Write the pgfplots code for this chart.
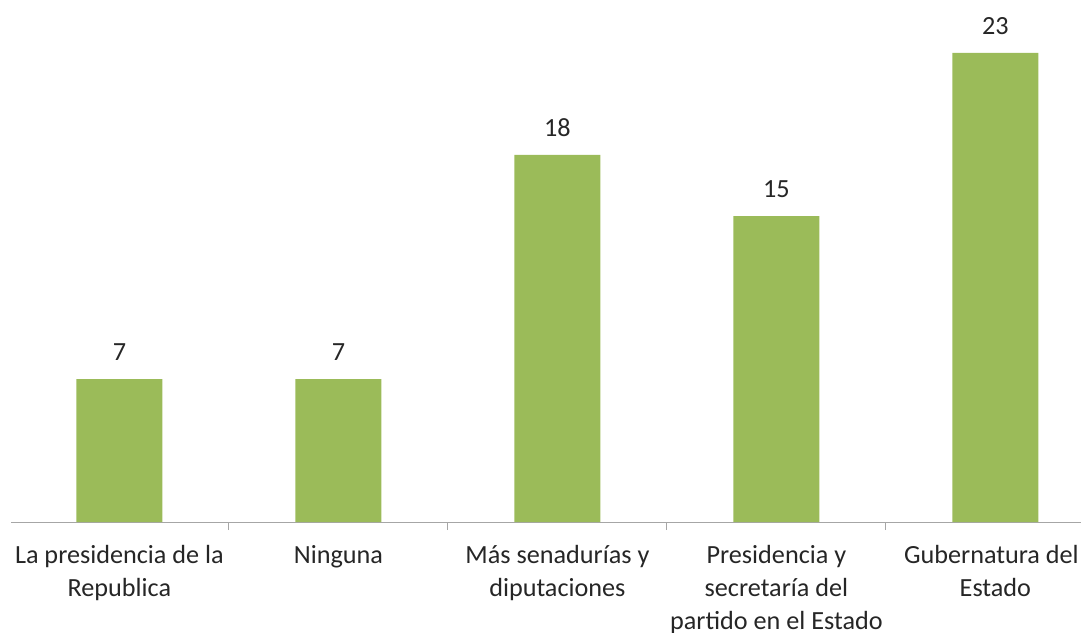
\documentclass[border=0pt]{standalone}
\usepackage{pgfplots}
\pgfplotsset{compat=1.18}
\usepackage{fontspec}
\setmainfont{Carlito}
\definecolor{bargreen}{HTML}{9BBB59}
\definecolor{axgray}{HTML}{A6A6A6}
\definecolor{txt}{HTML}{262626}
\begin{document}
\begin{tikzpicture}
\begin{axis}[
  name=ax,
  scale only axis,
  width=1070bp, height=522bp,
  xmin=-0.495, xmax=4.391,
  ymin=0, ymax=25.59,
  hide y axis,
  axis x line*=bottom,
  x axis line style={axgray, line width=1bp},
  xtick={0,1,2,3,4},
  xticklabels={{La presidencia de la\\Republica},{Ninguna},{Más senadurías y\\diputaciones},{Presidencia y\\secretaría del\\partido en el Estado},{Gubernatura del\hspace*{8bp}\\Estado}},
  major tick length=0pt,
  minor xtick={0.5,1.5,2.5,3.5},
  minor tick length=8bp,
  tick align=outside,
  tick style={axgray, line width=1bp},
  xticklabel style={font=\fontsize{26.3}{33}\selectfont, text=txt, align=center, anchor=north, inner sep=0pt, yshift=-23bp},
  ybar, bar width=86bp,
  /pgf/number format/assume math mode=true,
  nodes near coords,
  every node near coord/.append style={font=\fontsize{26.3}{30}\selectfont, text=txt, anchor=center, yshift=27bp, inner sep=0pt},
  clip=false,
]
\addplot[fill=bargreen, draw=none] coordinates {(0,7) (1,7) (2,18) (3,15) (4,23)};
\end{axis}
\pgfresetboundingbox
\path (-11bp,-111bp) rectangle (1070bp,522bp);
\end{tikzpicture}
\end{document}
